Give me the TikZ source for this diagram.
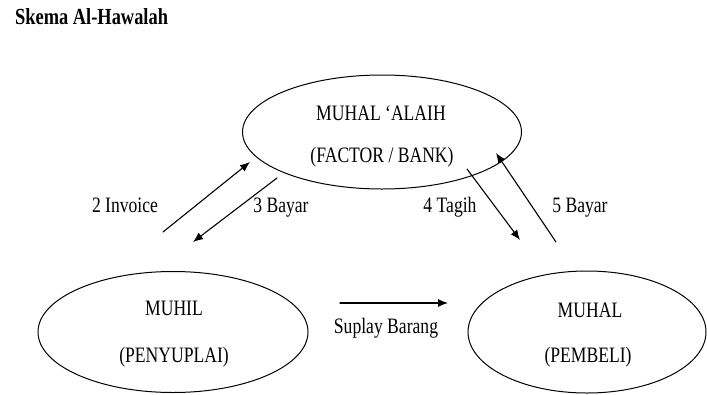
\documentclass[tikz,border=0pt]{standalone}
\usepackage{fontspec}
\setmainfont[FakeStretch=0.8]{Liberation Serif}
\usetikzlibrary{shapes.geometric,arrows.meta}
\tikzset{
  pihak/.style={draw, ellipse, line width=1pt, inner sep=0pt},
  teks/.style={anchor=base, inner sep=0pt, font=\fontsize{22}{24}\selectfont},
  alur/.style={line width=1.1pt, -{Latex[length=10pt,width=8pt]}}
}
\begin{document}
\begin{tikzpicture}[x=1pt, y=-1pt, line join=round, line cap=round]
	\useasboundingbox (0,0) rectangle (707,394);
	\node[teks, anchor=base west, font=\fontsize{23}{25}\selectfont\bfseries] (judul) at (15,24.5) {Skema Al-Hawalah};
	% pihak
	\node[pihak, minimum width=279pt, minimum height=114pt] (bank) at (382,132) {};
	\node[pihak, minimum width=270pt, minimum height=121pt] (muhil) at (173,332) {};
	\node[pihak, minimum width=238pt, minimum height=122pt] (muhal) at (587,332) {};
	\node[teks] (bank1) at (381,120) {MUHAL ‘ALAIH};
	\node[teks] (bank2) at (382,162) {(FACTOR / BANK)};
	\node[teks] (muhil1) at (174,315) {MUHIL};
	\node[teks] (muhil2) at (174,362) {(PENYUPLAI)};
	\node[teks] (muhal1) at (590,317) {MUHAL};
	\node[teks] (muhal2) at (588,362) {(PEMBELI)};
	% ujung panah
	\coordinate (a1) at (163,232); \coordinate (a2) at (250,162);
	\coordinate (b1) at (277,178); \coordinate (b2) at (193,242);
	\coordinate (c1) at (467,169); \coordinate (c2) at (520,240);
	\coordinate (d1) at (556,242); \coordinate (d2) at (496,153);
	\coordinate (e1) at (340,303); \coordinate (e2) at (448,303);
	\draw[alur] (a1)--(a2);
	\draw[alur] (b1)--(b2);
	\draw[alur] (c1)--(c2);
	\draw[alur] (d1)--(d2);
	\draw[alur] (e1)--(e2);
	\node[teks] (invoice) at (125,212) {2 Invoice};
	\node[teks] (bayar3) at (281,212) {3 Bayar};
	\node[teks] (tagih) at (450,212) {4 Tagih};
	\node[teks] (bayar5) at (580,212) {5 Bayar};
	\node[teks] (suplay) at (386,333) {Suplay Barang};
\end{tikzpicture}
\end{document}
